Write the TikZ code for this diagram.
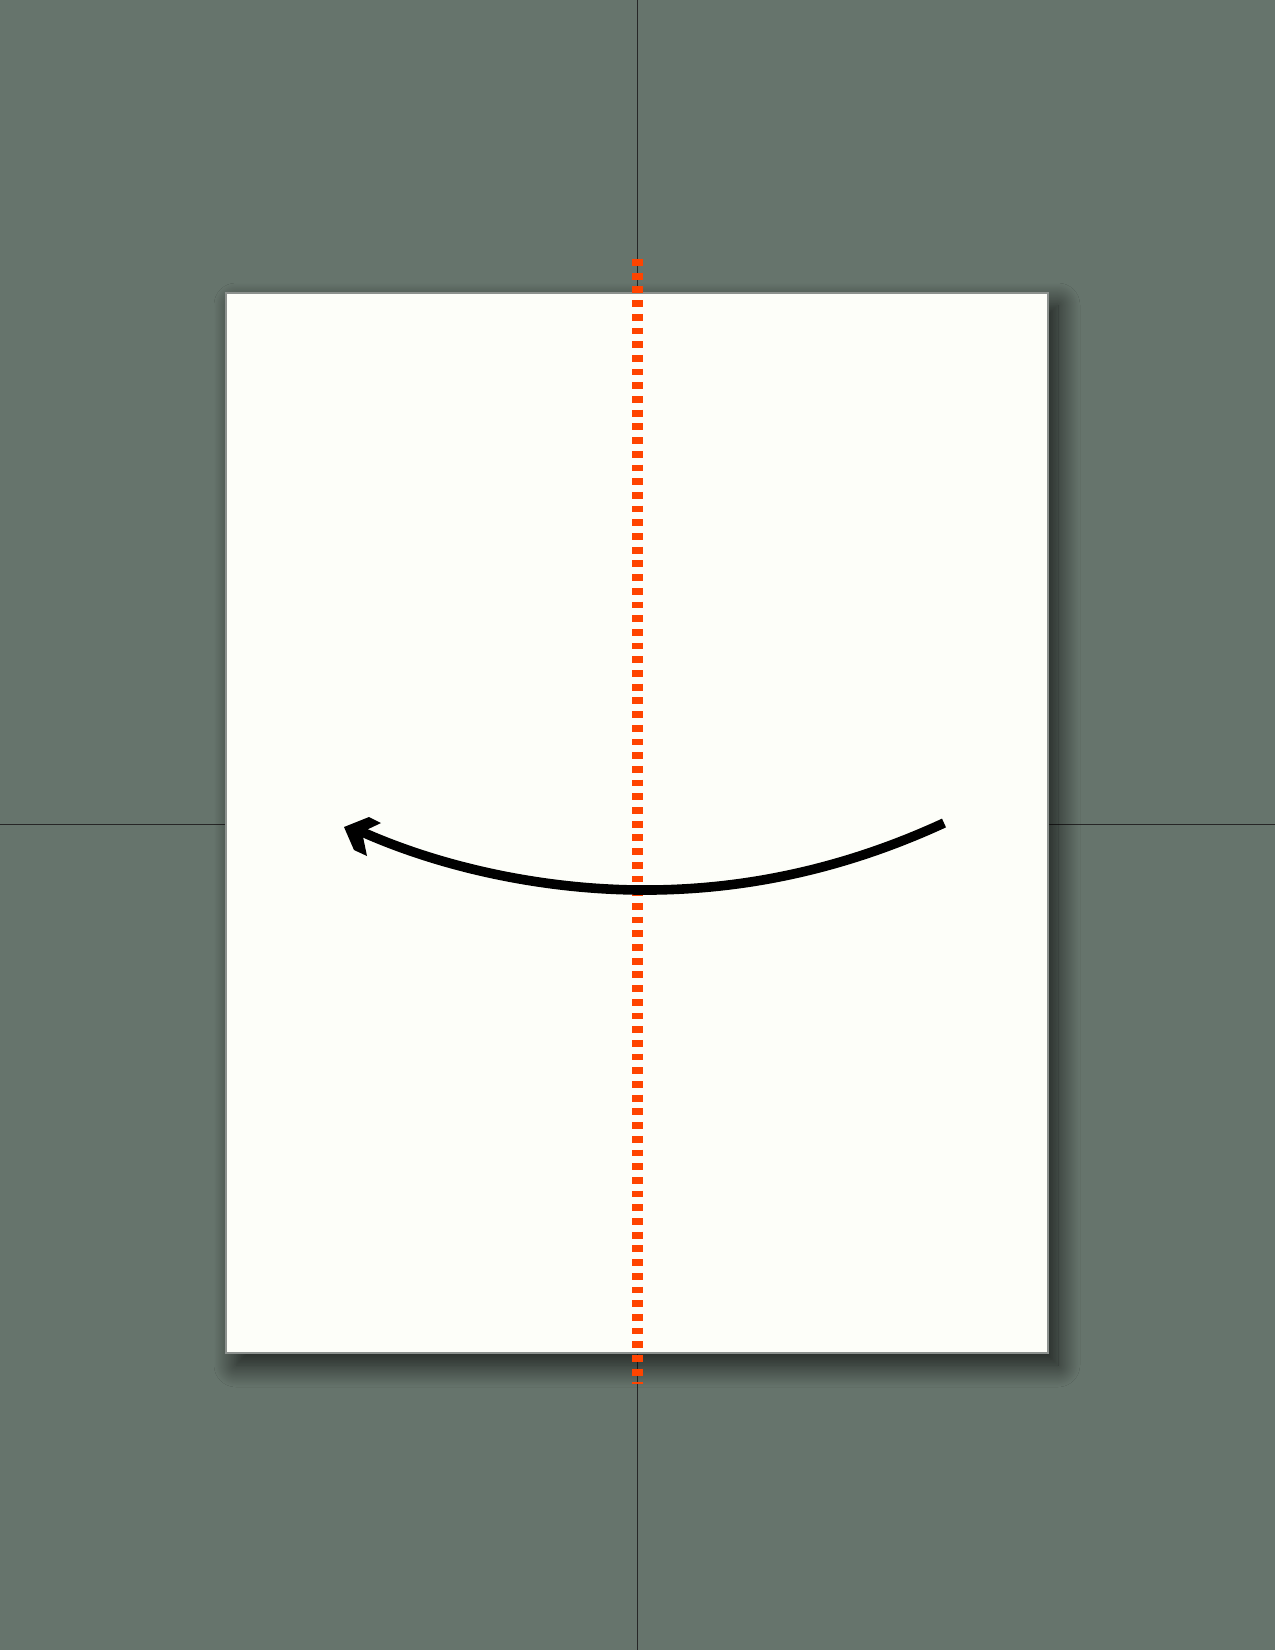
\documentclass[tikz,border=0pt]{standalone}
\usetikzlibrary{shadows.blur}
\definecolor{bgc}{RGB}{102,116,108}
\definecolor{paperc}{RGB}{253,254,249}
\definecolor{edgec}{RGB}{140,145,142}
\definecolor{foldc}{RGB}{255,68,0}
\begin{document}
\begin{tikzpicture}[x=0.5pt,y=-0.5pt,
  crossline/.style={draw=black!85,line width=0.5pt},
  paperbox/.style={fill=paperc,draw=edgec,line width=0.6pt,blur shadow={shadow xshift=5pt,shadow yshift=-6pt,shadow blur radius=11pt,shadow blur steps=30,shadow opacity=75}},
  foldline/.style={draw=foldc,line width=5.5pt,dash pattern=on 3.4pt off 3.45pt},
  movearrow/.style={draw=black,line width=4.8pt}]
\useasboundingbox (0,0) rectangle (1275,1650);
\fill[bgc] (0,0) rectangle (1275,1650);
\draw[crossline] (637.5,0) -- (637.5,1650);
\draw[crossline] (0,824) -- (1275,824);
\path[paperbox] (226,293) rectangle (1048,1353);
\coordinate (ftop) at (637,259);
\coordinate (fbot) at (637,1384);
\draw[foldline] (ftop) -- (fbot);
\coordinate (astart) at (944,823);
\coordinate (amid) at (638,890);
\coordinate (aend) at (360,831);
\draw[movearrow] (astart) .. controls (842,870) and (740,891) .. (amid)
  .. controls (540,889) and (440,867) .. (aend);
\fill[black] (344,827) -- (369,817) -- (381,823) -- (362,832) -- (367,856) -- (354,850) -- cycle;
\end{tikzpicture}
\end{document}
